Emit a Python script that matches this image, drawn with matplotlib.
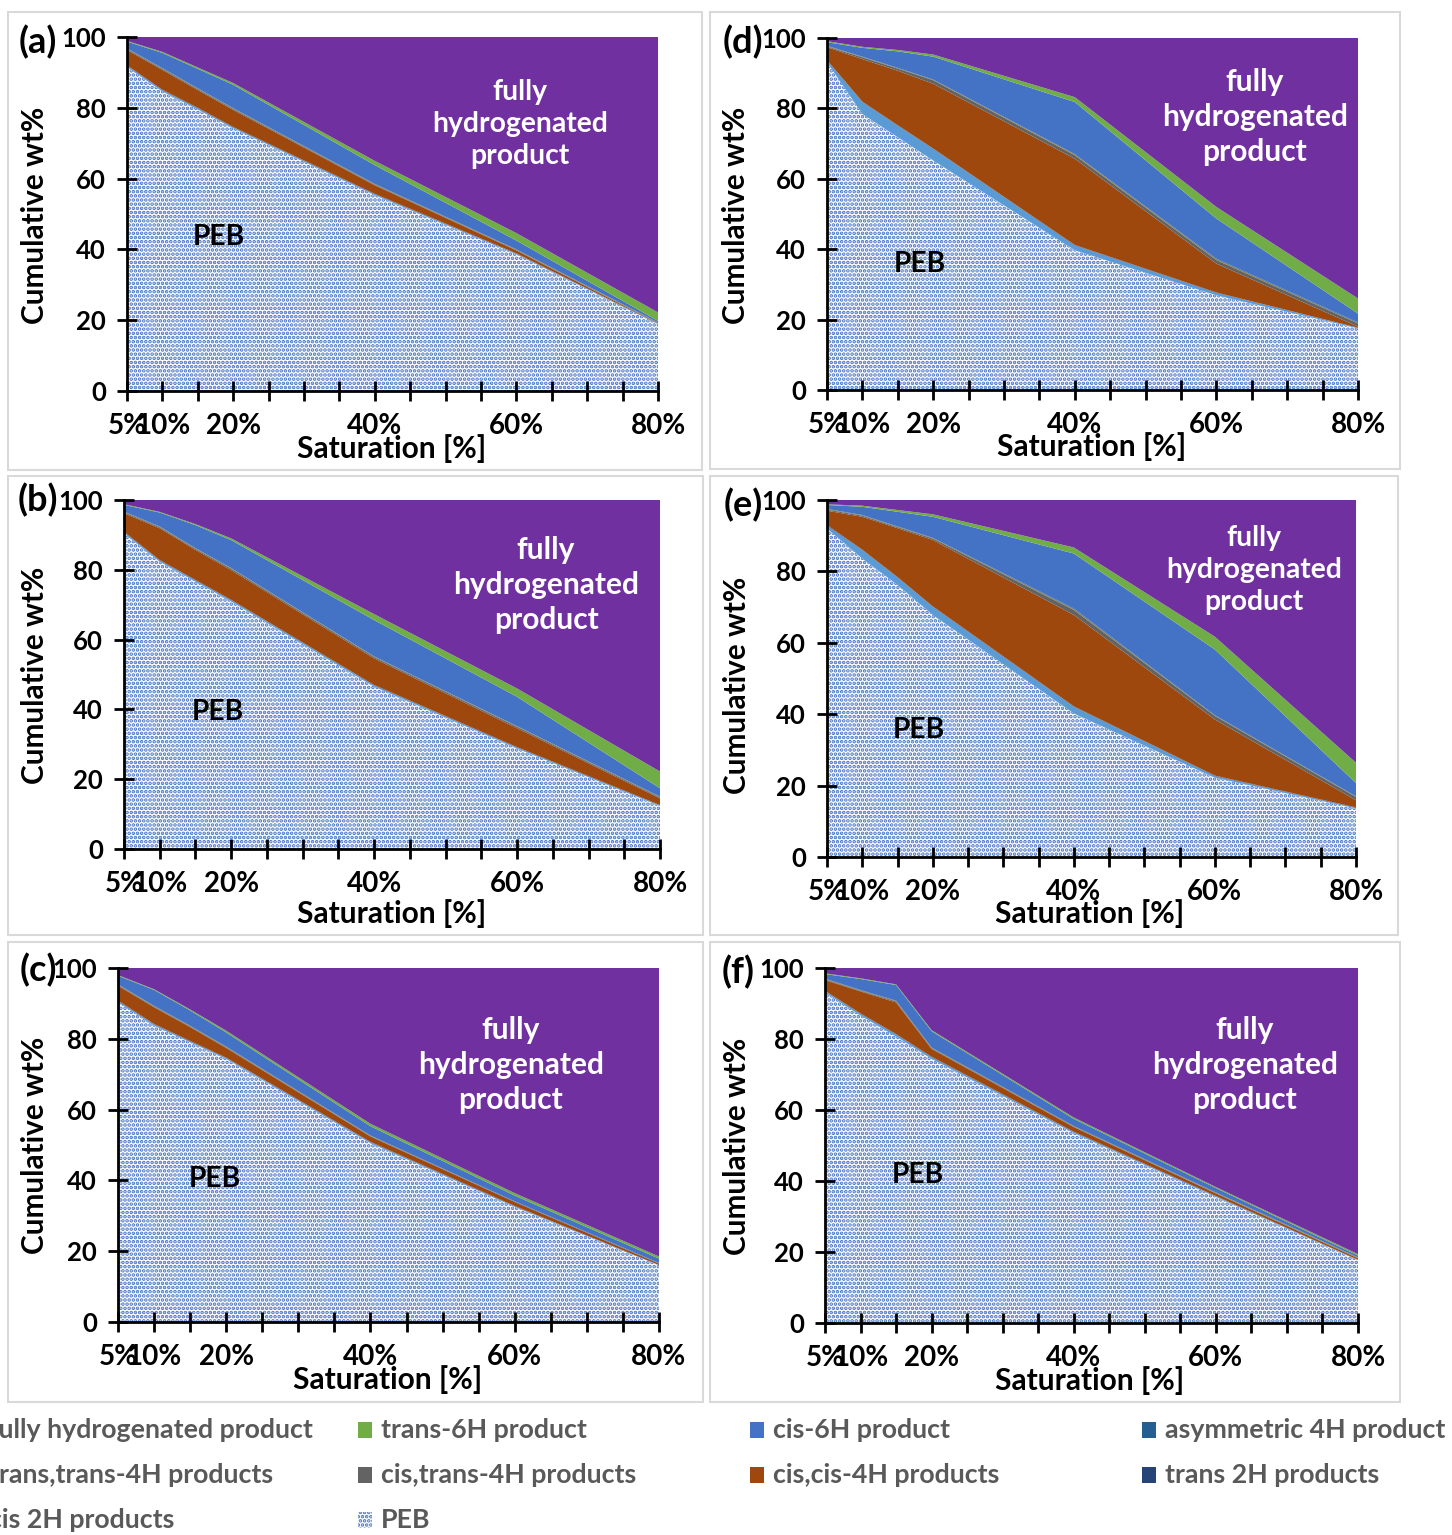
import matplotlib
matplotlib.use("Agg")
import matplotlib.pyplot as plt
from matplotlib.patches import Rectangle

plt.rcParams['font.family'] = ['Lato', 'DejaVu Sans']
plt.rcParams['font.weight'] = 'bold'
plt.rcParams['hatch.linewidth'] = 1.8

# ---------------- data (wt%) ----------------
sat = [5, 10, 15, 20, 40, 60, 80]
tick_pos = [5, 10, 15, 20, 25, 30, 35, 40, 45, 50, 55, 60, 65, 70, 75, 80]
tick_lab = ['5%', '10%', '', '20%', '', '', '', '40%', '', '', '', '60%', '', '', '', '80%']
y_ticks = [0, 20, 40, 60, 80, 100]

names = ['PEB', 'cis 2H products', 'trans 2H products', 'cis,cis-4H products',
         'cis,trans-4H products', 'trans,trans-4H products', 'asymmetric 4H product',
         'cis-6H product', 'trans-6H product', 'fully hydrogenated product']
colors = ['white', '#5B9BD5', '#264478', '#9E480E', '#636363', '#997300',
          '#255E91', '#4472C4', '#70AD47', '#7030A0']

# (a)
peb_a     = [91.5, 84.6, 79.5, 74.2, 55.3, 38.6, 18.9]
cis2h_a   = [0.4, 0.4, 0.4, 0.3, 0.3, 0.2, 0.1]
trans2h_a = [0.1, 0.1, 0.1, 0.1, 0.1, 0.1, 0.0]
cc4h_a    = [4.3, 5.6, 5.0, 4.8, 2.4, 0.8, 0.1]
ct4h_a    = [0.3, 0.3, 0.3, 0.3, 0.2, 0.1, 0.1]
tt4h_a    = [0.1, 0.1, 0.1, 0.1, 0.1, 0.1, 0.1]
asym_a    = [0.1, 0.1, 0.1, 0.1, 0.1, 0.1, 0.1]
cis6h_a   = [1.9, 4.3, 5.5, 6.6, 5.3, 2.5, 0.4]
trans6h_a = [0.2, 0.3, 0.4, 0.5, 1.2, 2.1, 2.4]
full_a    = [1.1, 4.2, 8.6, 13.0, 35.0, 55.4, 77.8]

# (b)
peb_b     = [90.4, 82.3, 76.6, 70.9, 46.5, 28.8, 12.3]
cis2h_b   = [0.4, 0.4, 0.4, 0.4, 0.4, 0.3, 0.2]
trans2h_b = [0.1, 0.1, 0.1, 0.1, 0.1, 0.1, 0.1]
cc4h_b    = [5.3, 9.1, 8.6, 8.5, 7.6, 5.4, 1.9]
ct4h_b    = [0.3, 0.3, 0.3, 0.4, 0.4, 0.4, 0.3]
tt4h_b    = [0.1, 0.1, 0.1, 0.1, 0.1, 0.1, 0.1]
asym_b    = [0.1, 0.1, 0.1, 0.1, 0.1, 0.1, 0.1]
cis6h_b   = [1.9, 4.0, 6.6, 8.0, 10.4, 8.4, 2.4]
trans6h_b = [0.2, 0.2, 0.3, 0.5, 1.7, 2.4, 4.8]
full_b    = [1.2, 3.4, 6.9, 11.0, 32.7, 54.0, 77.8]

# (c)
peb_c     = [90.3, 83.7, 79.0, 74.3, 50.5, 32.5, 16.0]
cis2h_c   = [0.4, 0.4, 0.3, 0.3, 0.3, 0.2, 0.1]
trans2h_c = [0.1, 0.1, 0.1, 0.1, 0.1, 0.1, 0.0]
cc4h_c    = [4.2, 4.7, 3.9, 2.7, 1.5, 1.1, 0.4]
ct4h_c    = [0.2, 0.2, 0.2, 0.2, 0.1, 0.1, 0.1]
tt4h_c    = [0.1, 0.1, 0.1, 0.1, 0.1, 0.0, 0.0]
asym_c    = [0.1, 0.1, 0.1, 0.1, 0.1, 0.1, 0.1]
cis6h_c   = [2.4, 4.5, 4.3, 4.0, 2.6, 1.6, 1.2]
trans6h_c = [0.2, 0.2, 0.3, 0.5, 0.7, 0.7, 0.6]
full_c    = [2.0, 6.0, 11.7, 17.7, 44.0, 63.6, 81.5]

# (d)
peb_d     = [93.1, 78.4, 71.8, 65.2, 39.7, 26.9, 17.5]
cis2h_d   = [0.5, 3.4, 3.3, 3.3, 1.4, 0.7, 0.2]
trans2h_d = [0.1, 0.1, 0.1, 0.1, 0.1, 0.1, 0.0]
cc4h_d    = [3.7, 12.1, 15.5, 18.4, 24.5, 8.2, 0.3]
ct4h_d    = [0.2, 0.5, 0.6, 1.0, 1.0, 1.0, 0.9]
tt4h_d    = [0.1, 0.1, 0.1, 0.1, 0.2, 0.2, 0.1]
asym_d    = [0.1, 0.1, 0.1, 0.1, 0.1, 0.2, 0.2]
cis6h_d   = [1.0, 2.5, 4.7, 6.5, 14.8, 11.4, 2.5]
trans6h_d = [0.3, 0.3, 0.4, 0.6, 1.4, 3.3, 4.3]
full_d    = [0.9, 2.5, 3.4, 4.7, 16.8, 48.0, 74.0]

# (e)
peb_e     = [92.0, 83.6, 76.2, 67.8, 40.2, 22.2, 13.6]
cis2h_e   = [0.8, 2.4, 2.1, 2.3, 1.9, 0.5, 0.2]
trans2h_e = [0.2, 0.1, 0.1, 0.1, 0.1, 0.1, 0.1]
cc4h_e    = [4.0, 9.2, 13.7, 18.6, 25.6, 15.7, 2.0]
ct4h_e    = [0.3, 0.3, 0.3, 0.4, 1.4, 1.0, 0.9]
tt4h_e    = [0.1, 0.1, 0.1, 0.1, 0.2, 0.1, 0.1]
asym_e    = [0.1, 0.1, 0.1, 0.1, 0.2, 0.1, 0.1]
cis6h_e   = [1.1, 2.3, 4.1, 5.9, 15.4, 18.4, 3.7]
trans6h_e = [0.2, 0.3, 0.5, 0.7, 1.7, 3.6, 5.7]
full_e    = [1.2, 1.6, 2.8, 4.0, 13.3, 38.3, 73.6]

# (f)
peb_f     = [93.1, 86.6, 80.7, 74.4, 53.5, 35.5, 17.7]
cis2h_f   = [0.4, 0.5, 0.6, 0.5, 0.3, 0.2, 0.1]
trans2h_f = [0.1, 0.1, 0.1, 0.1, 0.1, 0.1, 0.0]
cc4h_f    = [3.0, 6.2, 8.9, 2.2, 1.3, 0.7, 0.4]
ct4h_f    = [0.2, 0.2, 0.3, 0.2, 0.1, 0.1, 0.1]
tt4h_f    = [0.1, 0.1, 0.1, 0.1, 0.1, 0.1, 0.1]
asym_f    = [0.1, 0.1, 0.1, 0.1, 0.1, 0.1, 0.1]
cis6h_f   = [1.3, 3.1, 4.4, 4.6, 2.0, 1.2, 0.5]
trans6h_f = [0.2, 0.2, 0.2, 0.3, 0.4, 0.3, 0.4]
full_f    = [1.5, 2.9, 4.6, 17.5, 42.1, 61.7, 80.6]

series = {
    'a': [peb_a, cis2h_a, trans2h_a, cc4h_a, ct4h_a, tt4h_a, asym_a, cis6h_a, trans6h_a, full_a],
    'b': [peb_b, cis2h_b, trans2h_b, cc4h_b, ct4h_b, tt4h_b, asym_b, cis6h_b, trans6h_b, full_b],
    'c': [peb_c, cis2h_c, trans2h_c, cc4h_c, ct4h_c, tt4h_c, asym_c, cis6h_c, trans6h_c, full_c],
    'd': [peb_d, cis2h_d, trans2h_d, cc4h_d, ct4h_d, tt4h_d, asym_d, cis6h_d, trans6h_d, full_d],
    'e': [peb_e, cis2h_e, trans2h_e, cc4h_e, ct4h_e, tt4h_e, asym_e, cis6h_e, trans6h_e, full_e],
    'f': [peb_f, cis2h_f, trans2h_f, cc4h_f, ct4h_f, tt4h_f, asym_f, cis6h_f, trans6h_f, full_f],
}

# ---------------- layout (pixels) ----------------
W, H = 1452, 1535
def fx(px):
    return px / W
def fy(py):
    return 1 - py / H

# axes box, frame box, panel label, ylabel, xlabel, PEB, fully text, font size, line spacing
layout = {
    'a': dict(ax=(127, 37, 658, 391), box=(8, 12, 702, 470), lab=(38, 42), yl=(35, 215),
              xl=(392, 449), peb=(219, 237), full=(520, 124), fs=20.3, ls=1.28),
    'd': dict(ax=(827, 38, 1358, 390), box=(710, 12, 1400, 469), lab=(743, 42), yl=(736, 215),
              xl=(1092, 447), peb=(920, 264), full=(1255, 117), fs=21.5, ls=1.3),
    'b': dict(ax=(124, 500, 660, 849), box=(8, 476, 703, 935), lab=(38, 500), yl=(35, 675),
              xl=(392, 914), peb=(218, 712), full=(546, 585), fs=21.5, ls=1.3),
    'e': dict(ax=(827, 500, 1356, 857), box=(710, 476, 1398, 935), lab=(743, 505), yl=(737, 685),
              xl=(1090, 914), peb=(919, 730), full=(1254, 570), fs=20.3, ls=1.28),
    'c': dict(ax=(118, 968, 659, 1322), box=(8, 942, 703, 1402), lab=(38, 970), yl=(35, 1145),
              xl=(388, 1380), peb=(215, 1179), full=(511, 1065), fs=21.5, ls=1.3),
    'f': dict(ax=(825, 968, 1358, 1323), box=(710, 942, 1400, 1402), lab=(738, 972), yl=(737, 1146),
              xl=(1090, 1381), peb=(918, 1175), full=(1245, 1065), fs=21.5, ls=1.3),
}

fig = plt.figure(figsize=(W / 100, H / 100), dpi=100)

for key in ['a', 'b', 'c', 'd', 'e', 'f']:
    L = layout[key]
    x0, y0, x1, y1 = L['ax']
    ax = fig.add_axes([fx(x0), fy(y1), (x1 - x0) / W, (y1 - y0) / H])

    polys = ax.stackplot(sat, *series[key], colors=colors, linewidth=0)
    polys[0].set_hatch('....')
    polys[0].set_edgecolor('#4472C4')
    polys[0].set_facecolor('white')

    ax.set_xlim(5, 80)
    ax.set_ylim(0, 100)
    ax.set_xticks(tick_pos)
    ax.set_xticklabels(tick_lab)
    ax.set_yticks(y_ticks)
    ax.tick_params(direction='inout', length=14, width=2, colors='black')
    ax.tick_params(axis='x', pad=9, labelsize=20)
    ax.tick_params(axis='y', pad=8, labelsize=18.5)
    for s in ['top', 'right']:
        ax.spines[s].set_visible(False)
    for s in ['left', 'bottom']:
        ax.spines[s].set_linewidth(2)
        ax.spines[s].set_zorder(5)

    # panel frame
    bx0, by0, bx1, by1 = L['box']
    fig.patches.append(Rectangle((fx(bx0), fy(by1)), (bx1 - bx0) / W, (by1 - by0) / H,
                                 transform=fig.transFigure, fill=False,
                                 edgecolor='#D9D9D9', linewidth=1.5))

    fig.text(fx(L['lab'][0]), fy(L['lab'][1]), '(%s)' % key, fontsize=26,
             ha='center', va='center')
    fig.text(fx(L['yl'][0]), fy(L['yl'][1]), 'Cumulative wt%', fontsize=21.4,
             rotation=90, ha='center', va='center')
    fig.text(fx(L['xl'][0]), fy(L['xl'][1]), 'Saturation [%]', fontsize=21.5,
             ha='center', va='center')
    fig.text(fx(L['peb'][0]), fy(L['peb'][1]), 'PEB', fontsize=20.3,
             ha='center', va='center')
    fig.text(fx(L['full'][0]), fy(L['full'][1]), 'fully\nhydrogenated\nproduct',
             fontsize=L['fs'], linespacing=L['ls'], color='white',
             ha='center', va='center')

# ---------------- legend (Excel style, 4 columns, row-major) ----------------
leg_order = [9, 8, 7, 6, 5, 4, 3, 2, 1, 0]
col_x = [-34, 358, 750, 1142]
row_y = [1430, 1475, 1520]
for i, idx in enumerate(leg_order):
    cx = col_x[i % 4]
    cy = row_y[i // 4]
    if idx == 0:
        r = Rectangle((fx(cx), fy(cy + 8)), 14 / W, 16 / H, transform=fig.transFigure,
                      facecolor='white', edgecolor='#4472C4', hatch='....', linewidth=0)
    else:
        r = Rectangle((fx(cx), fy(cy + 8)), 14 / W, 16 / H, transform=fig.transFigure,
                      facecolor=colors[idx], linewidth=0)
    fig.patches.append(r)
    fig.text(fx(cx + 23), fy(cy), names[idx], fontsize=19.3, color='#595959',
             ha='left', va='center')

fig.savefig('out.png', dpi=100)
